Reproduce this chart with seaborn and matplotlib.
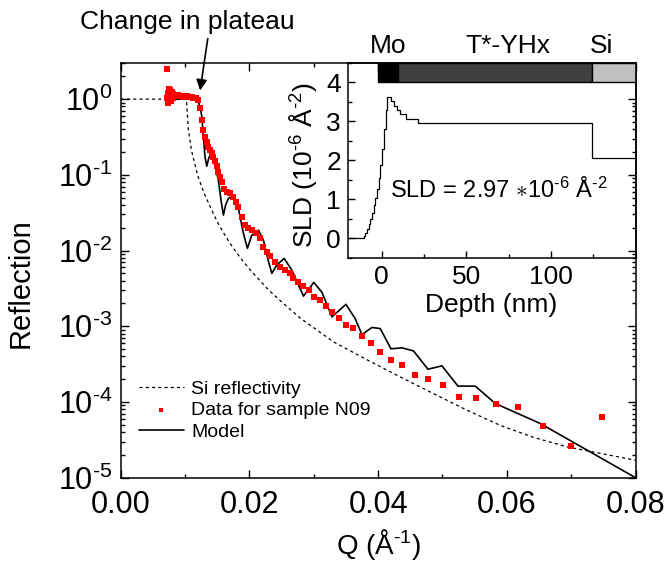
import numpy as np
import pandas as pd
import matplotlib
matplotlib.use("Agg")
import matplotlib.pyplot as plt
import seaborn as sns

# Si substrate reflectivity (dashed)
si_q = [0.0, 0.0102, 0.0105, 0.0110, 0.0116, 0.0121, 0.0130, 0.0139, 0.0150, 0.0160,
        0.0170, 0.0185, 0.0200, 0.0212, 0.0230, 0.0250, 0.0279, 0.0331, 0.0383, 0.0434,
        0.0486, 0.0538, 0.0590, 0.0642, 0.0694, 0.0745, 0.0800]
si_r = [1.0, 1.0, 0.40, 0.21, 0.130, 0.090, 0.056, 0.038, 0.024, 0.017,
        0.0124, 0.0082, 0.0057, 0.0044, 0.0030, 0.0021, 0.00128, 0.00062, 0.00036, 0.000215,
        0.000129, 7.8e-5, 4.9e-5, 3.4e-5, 2.55e-5, 2.1e-5, 1.7e-5]

# measured data, sample N09
data_q = [0.00725, 0.0072, 0.0073, 0.0074, 0.0075, 0.0076, 0.0077, 0.0078, 0.0079, 0.0080,
          0.0081, 0.0082, 0.0083, 0.0084, 0.0085, 0.0087, 0.0089, 0.0091, 0.0093, 0.0095,
          0.0097, 0.0099, 0.0101, 0.0103, 0.0105, 0.0107, 0.0109, 0.0111, 0.0113, 0.0115,
          0.0117, 0.01207, 0.01233, 0.0126, 0.01285, 0.01311, 0.01337, 0.01362, 0.01389, 0.01415,
          0.0144, 0.01467, 0.01493, 0.01518, 0.01544, 0.01571, 0.01607, 0.01649, 0.0170, 0.01751,
          0.01793, 0.01829, 0.01882, 0.01933, 0.01984, 0.02037, 0.02104, 0.02166, 0.02218, 0.02271,
          0.02322, 0.0240, 0.02477, 0.02555, 0.02633, 0.02684, 0.02762, 0.0284, 0.02928, 0.03006,
          0.0310, 0.03188, 0.03291, 0.03395, 0.03499, 0.03617, 0.03753, 0.03888, 0.04033, 0.04199,
          0.04375, 0.04566, 0.04768, 0.05002, 0.0525, 0.05526, 0.05832, 0.06168, 0.06557, 0.0700,
          0.07485]
data_r = [2.49, 1.05, 0.88, 1.22, 1.38, 1.30, 1.15, 0.95, 1.25, 1.12,
          1.18, 1.05, 1.13, 1.10, 1.15, 1.10, 1.12, 1.09, 1.11, 1.10,
          1.08, 1.10, 1.09, 1.11, 1.08, 1.07, 1.08, 1.06, 1.05, 1.04,
          1.05, 0.97, 0.76, 0.53, 0.39, 0.315, 0.27, 0.234, 0.212, 0.192,
          0.171, 0.152, 0.129, 0.11, 0.093, 0.081, 0.066, 0.0597, 0.0568, 0.0513,
          0.044, 0.0378, 0.0279, 0.0217, 0.0196, 0.0186, 0.0168, 0.0145, 0.0112, 0.0096,
          0.00843, 0.0071, 0.0061, 0.0056, 0.00507, 0.00428, 0.00386, 0.00339, 0.0030, 0.0024,
          0.00219, 0.00184, 0.00156, 0.00129, 0.00103, 0.000935, 0.000747, 0.000593, 0.000451, 0.000364,
          0.000309, 0.000226, 0.0002, 0.000167, 0.000116, 0.000113, 9.55e-5, 8.53e-5, 4.83e-5, 2.66e-5,
          6.24e-5]

# fitted model
model_q = [0.0074, 0.0118, 0.0120, 0.01233, 0.0126, 0.01285, 0.0131, 0.01337, 0.01368, 0.0140,
           0.0143, 0.01467, 0.01518, 0.0156, 0.01596, 0.0163, 0.01674, 0.01751, 0.01829, 0.01907,
           0.01969, 0.02037, 0.0214, 0.02218, 0.0229, 0.02348, 0.02426, 0.0254, 0.0266, 0.0284,
           0.0300, 0.03126, 0.03282, 0.0350, 0.03644, 0.03748, 0.03903, 0.04033, 0.04199, 0.0437,
           0.0455, 0.04774, 0.04992, 0.05241, 0.0551, 0.05821, 0.0652, 0.0800]
model_r = [1.0, 1.0, 0.95, 0.79, 0.59, 0.316, 0.174, 0.130, 0.166, 0.192,
           0.174, 0.128, 0.085, 0.045, 0.0294, 0.040, 0.049, 0.054, 0.036, 0.0168,
           0.0107, 0.016, 0.0186, 0.0137, 0.0075, 0.0050, 0.00646, 0.00787, 0.0055, 0.0025,
           0.0038, 0.00282, 0.00133, 0.00195, 0.00126, 0.000776, 0.000964, 0.000933, 0.000504, 0.000519,
           0.000473, 0.000271, 0.0003, 0.000162, 0.000162, 9.55e-5, 5.2e-5, 1.0e-5]

# SLD depth profile (step edges)
depth = [-20, -10.8, -9.8, -8.8, -7.8, -6.8, -5.8, -4.8, -3.8, -2.8,
         -1.8, -0.8, 0.2, 1.2, 2.2, 3.2, 5.4, 7.0, 8.8, 11.0,
         14.5, 21.5, 124, 150]
sld = [0.0, 0.07, 0.15, 0.25, 0.36, 0.50, 0.66, 0.85, 1.05, 1.28,
       1.55, 1.88, 2.3, 2.8, 3.3, 3.63, 3.53, 3.40, 3.29, 3.19,
       3.07, 2.97, 2.07, 2.07]

# layer bar on top of inset
layer_names = ["Mo", "T*-YHx", "Si"]
layer_start = [-2, 9.7, 124]
layer_end = [9.7, 124, 150]
layer_colors = ["#000000", "#404040", "#c0c0c0"]
layer_label_x = [3.7, 74.5, 129.7]

sns.set_style("ticks")
plt.rcParams["font.family"] = ["Liberation Sans", "DejaVu Sans"]
plt.rcParams["mathtext.fontset"] = "custom"
plt.rcParams["mathtext.rm"] = "Liberation Sans"
plt.rcParams["mathtext.it"] = "Liberation Sans:italic"
plt.rcParams["mathtext.bf"] = "Liberation Sans:bold"
plt.rcParams["axes.linewidth"] = 1.1
for k in ["text.color", "axes.labelcolor", "xtick.color", "ytick.color", "axes.edgecolor"]:
    plt.rcParams[k] = "black"

fig = plt.figure(figsize=(6.67, 5.65), dpi=100)
ax = fig.add_axes([0.181, 0.1545, 0.7718, 0.734])

si_df = pd.DataFrame({"Q": si_q, "R": si_r})
data_df = pd.DataFrame({"Q": data_q, "R": data_r})
model_df = pd.DataFrame({"Q": model_q, "R": model_r})

sns.lineplot(data=si_df, x="Q", y="R", ax=ax, color="black", lw=0.9,
             dashes=False, linestyle=(0, (2.5, 2.5)), label="Si reflectivity", sort=False)
sns.lineplot(data=model_df, x="Q", y="R", ax=ax, color="black", lw=1.2,
             label="Model", sort=False)
sns.scatterplot(data=data_df, x="Q", y="R", ax=ax, color="#ff0000", marker="s", s=13,
                linewidth=0, label="Data for sample N09", zorder=3)

ax.set_yscale("log")
ax.set_xlim(0, 0.08)
ax.set_ylim(1e-5, 3.0)
ax.set_xticks([0.0, 0.02, 0.04, 0.06, 0.08])
ax.set_xticklabels(["0.00", "0.02", "0.04", "0.06", "0.08"])
ax.xaxis.set_minor_locator(matplotlib.ticker.MultipleLocator(0.01))
ax.yaxis.set_major_locator(matplotlib.ticker.LogLocator(base=10, numticks=10))
ax.yaxis.set_minor_locator(matplotlib.ticker.LogLocator(base=10, subs=np.arange(2, 10), numticks=10))
ax.yaxis.set_major_formatter(matplotlib.ticker.FuncFormatter(
    lambda v, p: "10$^{%s}$" % ("%d" % round(np.log10(v))).replace("-", "\u2010")))
ax.tick_params(which="both", direction="in", top=True, right=True, labelsize=22, width=1.0)
ax.tick_params(which="major", length=6, pad=6)
ax.tick_params(axis="x", which="major", pad=9)
ax.tick_params(which="minor", length=3)
ax.set_xlabel("Q (Å$^{\u20101}$)", fontsize=20)
ax.set_ylabel("Reflection", fontsize=21)
ax.xaxis.set_label_coords(0.5, -0.16)
ax.xaxis.label.set_va("center")
ax.yaxis.set_label_coords(-0.194, 0.47)
ax.yaxis.label.set_va("center")

handles, labels = ax.get_legend_handles_labels()
order = [labels.index(n) for n in ["Si reflectivity", "Data for sample N09", "Model"]]
ax.legend([handles[i] for i in order], [labels[i] for i in order], loc="lower left",
          bbox_to_anchor=(0.02, 0.07), frameon=False, fontsize=14, handlelength=2.3,
          handletextpad=0.4, labelspacing=0.2, borderaxespad=0, markerscale=0.9)

ax.annotate("Change in plateau", xy=(0.01233, 1.3), xytext=(187, 543),
            textcoords="figure pixels", ha="center", va="center", fontsize=19,
            arrowprops=dict(arrowstyle="-|>", color="black", lw=1.2, mutation_scale=16,
                            shrinkA=1, shrinkB=0, relpos=(0.6, 0.0)))

# inset: SLD profile
ins = fig.add_axes([0.5217, 0.5434, 0.4311, 0.3451])
ins.set_facecolor("none")
ins.barh(y=[4.25] * 3, width=np.array(layer_end) - np.array(layer_start), left=layer_start,
         height=0.5, color=layer_colors, edgecolor="black", linewidth=1.0)
sns.lineplot(x=depth, y=sld, ax=ins, color="black", lw=0.9, drawstyle="steps-post", sort=False)
ins.set_xlim(-20, 150)
ins.set_ylim(-0.5, 4.5)
ins.set_xticks([0, 50, 100])
ins.set_yticks([0, 1, 2, 3, 4])
ins.xaxis.set_minor_locator(matplotlib.ticker.MultipleLocator(25))
ins.yaxis.set_minor_locator(matplotlib.ticker.MultipleLocator(0.5))
ins.tick_params(which="both", direction="in", labelsize=19, width=1.0)
ins.tick_params(which="major", length=5, pad=5)
ins.tick_params(which="minor", length=3)
ins.set_xlabel("Depth (nm)", fontsize=19)
ins.set_ylabel("SLD (10$^{\u20106}$ Å$^{\u20102}$)", fontsize=19)
ins.xaxis.set_label_coords(0.499, -0.24)
ins.xaxis.label.set_va("center")
ins.yaxis.set_label_coords(-0.156, 0.474)
ins.yaxis.label.set_va("center")
for name, xl in zip(layer_names, layer_label_x):
    ins.text(xl, 4.94, name, ha="center", va="center", fontsize=19, clip_on=False)
ins.text(4.9, 1.23, "SLD = 2.97 $\\ast$10$^{\u20106}$ Å$^{\u20102}$", ha="left", va="center", fontsize=17)

fig.savefig("out.png", dpi=100)
